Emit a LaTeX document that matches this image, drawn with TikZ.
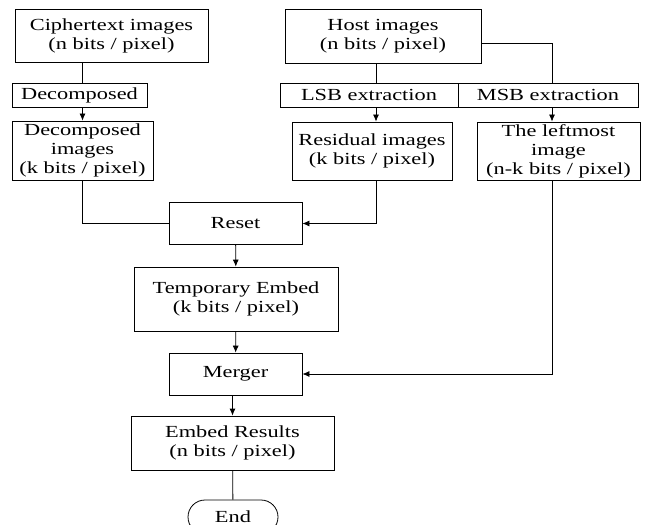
\documentclass[tikz,border=0pt]{standalone}
\usepackage{fontspec}
\setmainfont{Liberation Serif}[FakeStretch=1.32]
\usetikzlibrary{arrows.meta,shapes.misc}
\tikzstyle{box}=[draw=black,line width=0.8bp,inner sep=0pt,align=center,font=\fontsize{17}{19}\selectfont]
\tikzstyle{link}=[draw=black,line width=0.8bp]
\tikzstyle{flow}=[link,-{Latex[length=7bp,width=6bp]}]

\begin{document}
\begin{tikzpicture}[x=1bp,y=-1bp]
  \useasboundingbox (0,0) rectangle (651,525);
  % left column
  \node[box,minimum width=193bp,minimum height=53bp] (cipher) at (111.5,35.5) {Ciphertext images\\(n bits / pixel)};
  \node[box,minimum width=135bp,minimum height=24bp] (decomp) at (79.5,95) {Decomposed};
  \node[box,minimum width=141bp,minimum height=59bp] (decimg) at (82.5,150.5) {Decomposed\\images\\(k bits / pixel)};
  % right columns
  \node[box,minimum width=196bp,minimum height=54bp] (host) at (383,36) {Host images\\(n bits / pixel)};
  \node[box,minimum width=178bp,minimum height=24bp] (lsb) at (369,95) {LSB extraction};
  \node[box,minimum width=180bp,minimum height=24bp] (msb) at (548,95) {MSB extraction};
  \node[box,minimum width=160bp,minimum height=58bp] (resid) at (372,151) {Residual images\\(k bits / pixel)};
  \node[box,minimum width=163bp,minimum height=58bp] (leftmost) at (558.5,151) {The leftmost\\image\\(n-k bits / pixel)};
  % main flow
  \node[box,minimum width=133bp,minimum height=42bp] (reset) at (235.5,223.5) {Reset};
  \node[box,minimum width=204bp,minimum height=64bp] (temp) at (236,299) {Temporary Embed\\(k bits / pixel)};
  \node[box,minimum width=133bp,minimum height=42bp] (merger) at (235.5,374) {Merger};
  \node[box,minimum width=203bp,minimum height=54bp] (embed) at (232.5,443) {Embed Results\\(n bits / pixel)};
  \node[box,rounded rectangle,minimum width=90bp,minimum height=34bp] (end) at (233,517) {End};

  \coordinate (lsbx) at (376,0);
  \coordinate (msbx) at (552,43);

  \draw[link] (cipher.south -| decimg) -- (decomp.north -| decimg);
  \draw[flow] (decomp.south -| decimg) -- (decimg.north);
  \draw[link] (decimg.south) |- (reset.west);
  \draw[link] (host.south -| lsbx) -- (lsb.north -| lsbx);
  \draw[link] (host.east |- msbx) -| (msb.north -| msbx);
  \draw[flow] (lsb.south -| lsbx) -- (resid.north -| lsbx);
  \draw[flow] (msb.south -| msbx) -- (leftmost.north -| msbx);
  \draw[flow] (resid.south -| lsbx) |- (reset.east);
  \draw[flow] (leftmost.south -| msbx) |- (merger.east);
  \draw[flow] (reset) -- (temp);
  \draw[flow] (temp) -- (merger);
  \draw[flow] (merger.south -| embed) -- (embed.north);
  \draw[link] (embed) -- (end);
\end{tikzpicture}
\end{document}
